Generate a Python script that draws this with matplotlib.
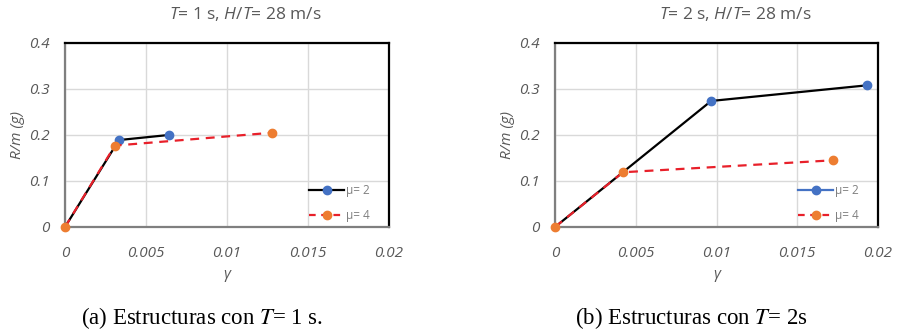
import matplotlib
matplotlib.use("Agg")
import matplotlib.pyplot as plt
from matplotlib.lines import Line2D

# Panel (a): T = 1 s
a_mu2_x = [0.0, 0.00333, 0.00639]
a_mu2_y = [0.0, 0.189, 0.200]
a_mu4_x = [0.0, 0.00308, 0.0128]
a_mu4_y = [0.0, 0.177, 0.205]

# Panel (b): T = 2 s
b_mu2_x = [0.0, 0.00967, 0.01932]
b_mu2_y = [0.0, 0.274, 0.308]
b_mu4_x = [0.0, 0.00421, 0.01722]
b_mu4_y = [0.0, 0.119, 0.145]

xticks = [0, 0.005, 0.01, 0.015, 0.02]
xticklabels = ["0", "0.005", "0.01", "0.015", "0.02"]
yticks = [0, 0.1, 0.2, 0.3, 0.4]
yticklabels = ["0", "0.1", "0.2", "0.3", "0.4"]
legend_labels = ["μ= 2", "μ= 4"]
titles = [r"$\it{T}$= 1 s, $\it{H/T}$= 28 m/s", r"$\it{T}$= 2 s, $\it{H/T}$= 28 m/s"]
captions = [("(a) Estructuras con ", "T", "= 1 s."), ("(b) Estructuras con ", "T", "= 2s")]

plt.rcParams['font.family'] = ['Open Sans', 'DejaVu Sans']
plt.rcParams['mathtext.fontset'] = 'custom'
plt.rcParams['mathtext.it'] = 'Open Sans:italic'
plt.rcParams['mathtext.rm'] = 'Open Sans'

W, H = 899, 334
fig = plt.figure(figsize=(W / 100, H / 100), dpi=100)

BLUE = "#4472C4"
ORANGE = "#ED7D31"
RED = "#E8202A"
GRAY = "#595959"

def px_axes(x0, x1, y0, y1):
    return fig.add_axes([x0 / W, 1 - y1 / H, (x1 - x0) / W, (y1 - y0) / H])

boxes = [(65, 389, 43, 227), (555, 878, 43, 227)]
title_x = [245, 735]
data = [(a_mu2_x, a_mu2_y, a_mu4_x, a_mu4_y), (b_mu2_x, b_mu2_y, b_mu4_x, b_mu4_y)]
legend_line_colors = ["black", BLUE]

for i, (box, d) in enumerate(zip(boxes, data)):
    ax = px_axes(*box)
    aw = box[1] - box[0]
    m2x, m2y, m4x, m4y = d
    ax.plot(m2x, m2y, color="black", lw=1.6, zorder=3)
    ax.plot(m2x[1:], m2y[1:], ls="none", marker="o", ms=6, color=BLUE, zorder=4,
            clip_on=False)
    ax.plot(m4x, m4y, color=RED, lw=1.6, ls=(0, (4, 3)), zorder=5)
    ax.plot(m4x, m4y, ls="none", marker="o", ms=6, color=ORANGE, zorder=6,
            clip_on=False)
    ax.set_xlim(0, 0.02)
    ax.set_ylim(0, 0.4)
    ax.set_xticks(xticks)
    ax.set_xticklabels(xticklabels)
    ax.set_yticks(yticks)
    ax.set_yticklabels(yticklabels)
    ax.grid(True, color="#D9D9D9", lw=1.0)
    ax.set_axisbelow(True)
    ax.tick_params(axis="x", length=0, pad=14, labelsize=11, labelcolor=GRAY)
    ax.tick_params(axis="y", length=0, pad=11, labelsize=11, labelcolor=GRAY)
    for lab in ax.get_xticklabels() + ax.get_yticklabels():
        lab.set_fontstyle("italic")
    ax.spines["top"].set_color("black")
    ax.spines["right"].set_color("black")
    ax.spines["left"].set_color("#7F7F7F")
    ax.spines["bottom"].set_color("#7F7F7F")
    for s in ax.spines.values():
        s.set_linewidth(1.6)
    ax.set_xlabel("γ", fontsize=11, color=GRAY, style="italic", labelpad=4)
    ax.set_ylabel("R/m (g)", fontsize=11, color=GRAY, style="italic", labelpad=3)
    fig.text(title_x[i] / W, 1 - 14 / H, titles[i], ha="center", va="center",
             fontsize=12.5, color=GRAY)
    handles = [
        Line2D([], [], color=legend_line_colors[i], lw=1.6, marker="o", ms=6,
               markerfacecolor=BLUE, markeredgecolor=BLUE),
        Line2D([], [], color=RED, lw=1.6, ls=(0, (3, 2.5)), marker="o", ms=6,
               markerfacecolor=ORANGE, markeredgecolor=ORANGE),
    ]
    leg = ax.legend(handles, legend_labels, loc="lower right", frameon=False,
                    fontsize=8.5, handlelength=3.0, handletextpad=0.1,
                    labelspacing=1.05, borderaxespad=0.0,
                    bbox_to_anchor=((aw - 15) / aw, 0.0))
    for t in leg.get_texts():
        t.set_color("#808080")

# captions
cap_x = [202, 691]
for cx, (pre, it, post) in zip(cap_x, captions):
    fig.text(cx / W, 1 - 318 / H,
             pre + r"$\mathit{" + it + "}$" + post,
             ha="center", va="center", fontsize=16.5,
             family="Liberation Serif", math_fontfamily="stix")

fig.savefig("out.png", dpi=100)
